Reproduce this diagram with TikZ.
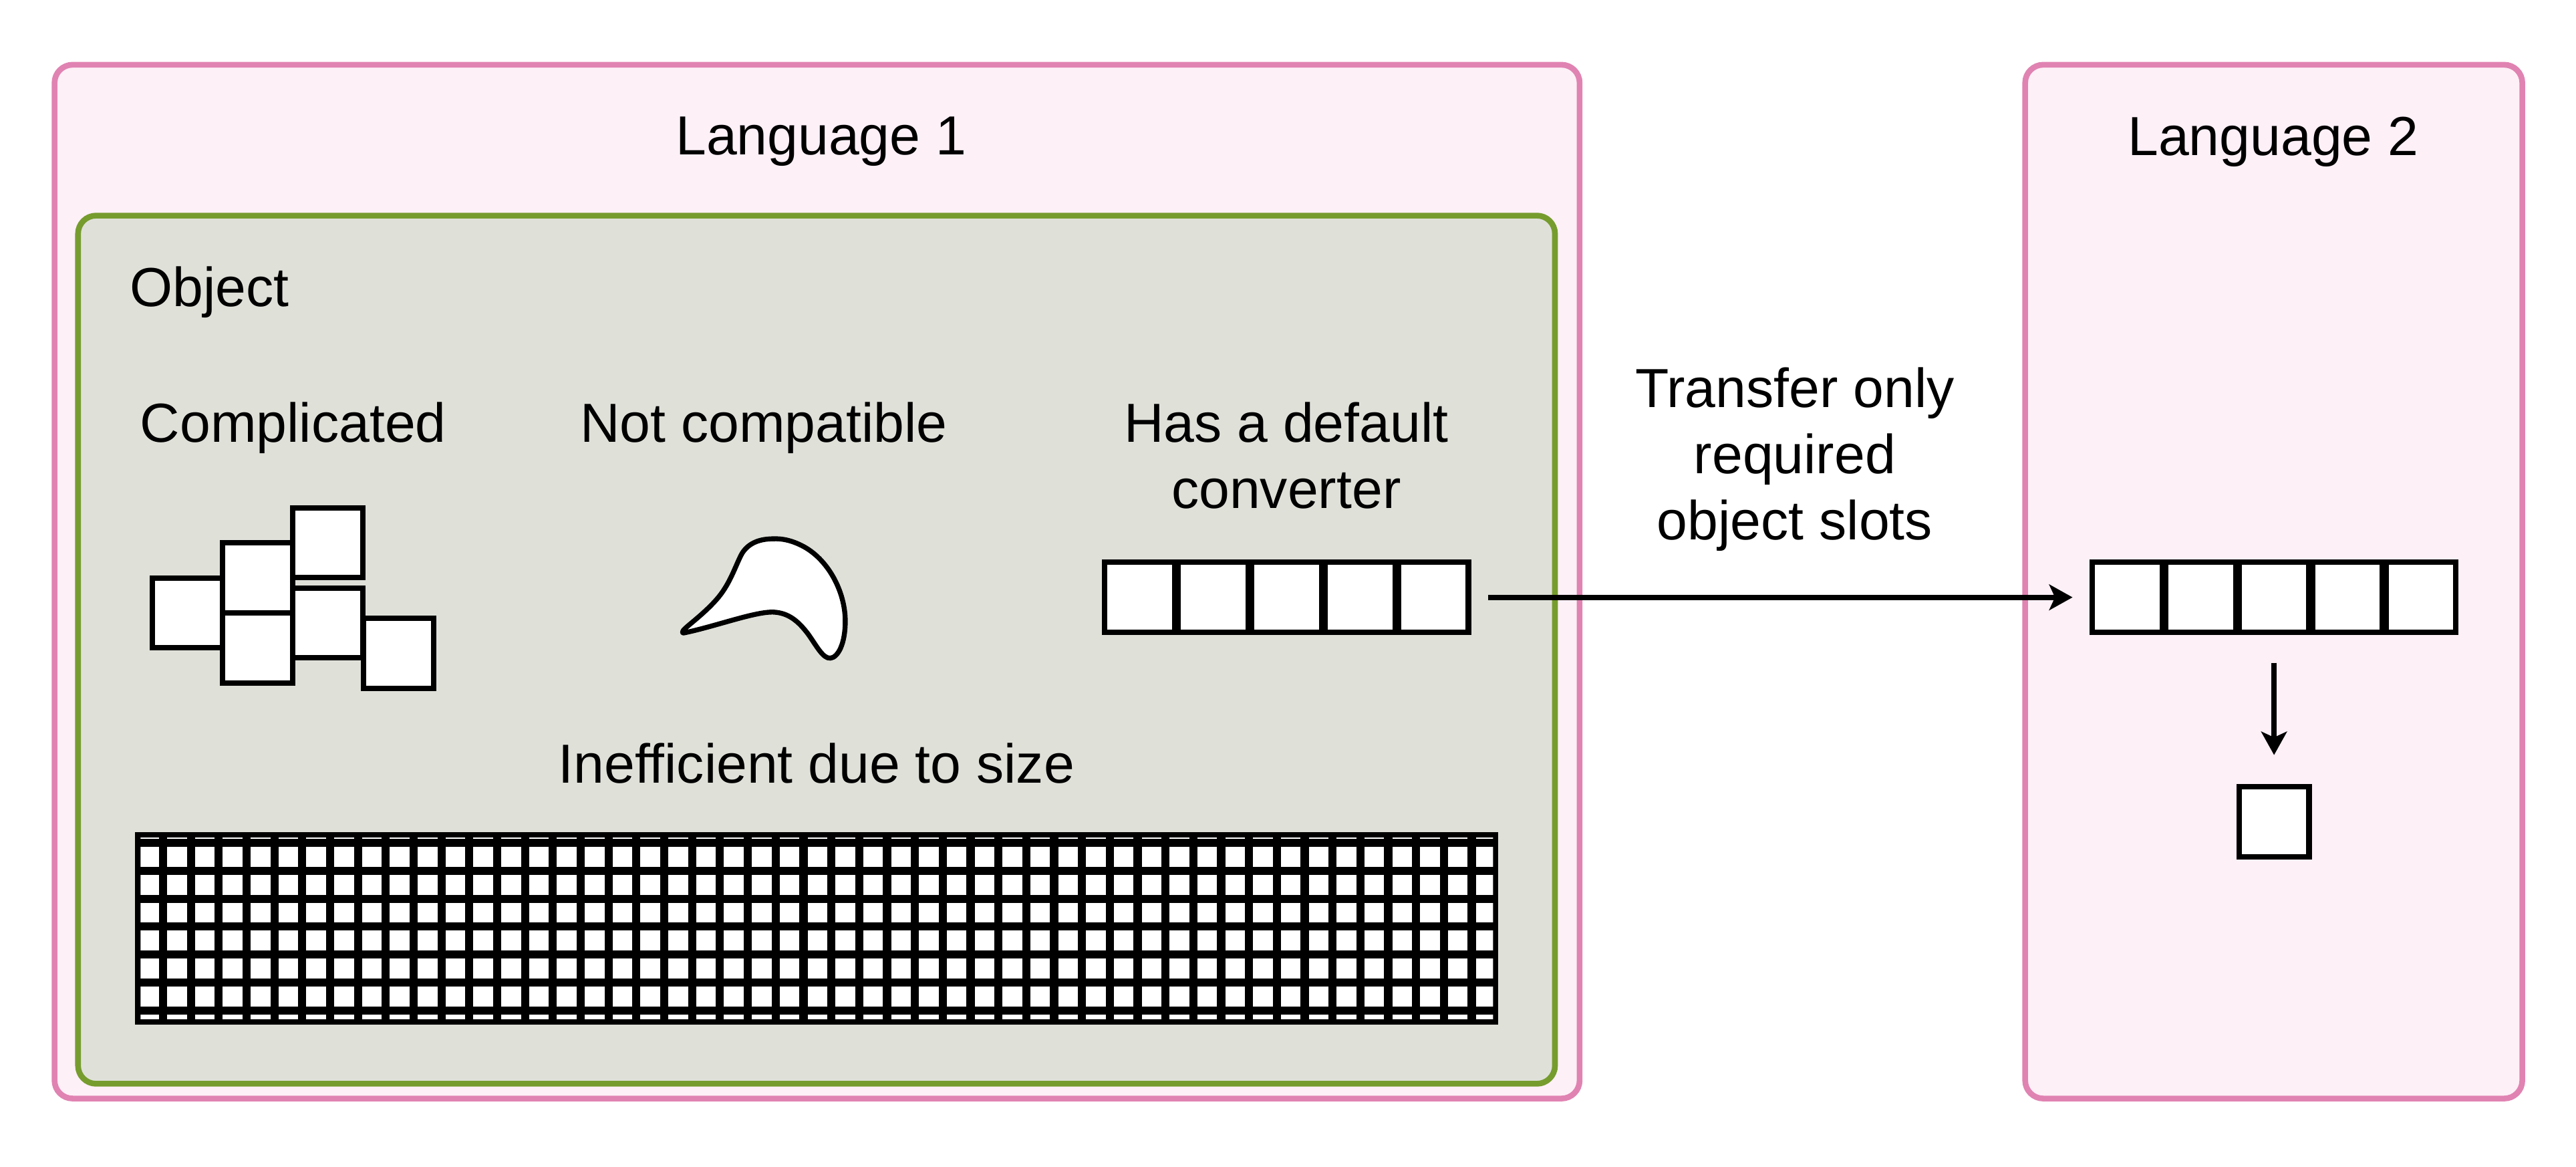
\documentclass[tikz,border=0pt]{standalone}
\usepackage{fontspec}
\setmainfont{Liberation Sans}
\usetikzlibrary{arrows.meta}
\definecolor{pinkfill}{RGB}{253,240,247}
\definecolor{pinkline}{RGB}{224,131,178}
\definecolor{greenfill}{RGB}{223,225,217}
\definecolor{greenline}{RGB}{118,156,46}
\begin{document}
\begin{tikzpicture}[x=1pt,y=-1pt,
  lang/.style={draw=pinkline, fill=pinkfill, line width=3.5pt, rounded corners=11pt, inner sep=0pt},
  objbox/.style={draw=greenline, fill=greenfill, line width=3.5pt, rounded corners=11pt, inner sep=0pt},
  lbl/.style={font=\fontsize{33.5}{40.3}\selectfont, inner sep=0pt, outer sep=0pt},
  cell/.style={draw=black, fill=white, line width=3.3pt, minimum width=42.6pt, minimum height=42.6pt, inner sep=0pt},
  conn/.style={line width=3.3pt, -{Stealth[length=14.2pt,width=15.6pt,inset=3.5pt]}},
  blob/.style={draw=black, fill=white, line width=3pt, line join=round}
]
\useasboundingbox (0,0) rectangle (1568,709.8);
\fill[white] (0,0) rectangle (1568,709.8);

% containers
\node[lang, minimum width=928.3pt, minimum height=629.1pt] (L1) at (497.35,353.95) {};
\node[lang, minimum width=302.6pt, minimum height=629.1pt] (L2) at (1384,353.95) {};
\node[objbox, minimum width=899pt, minimum height=528.3pt] (obj) at (497,395.35) {};

% titles
\node[lbl, anchor=base] (t1) at (499.8,94.2) {Language 1};
\node[lbl, anchor=base] (t2) at (1383.7,94.6) {Language 2};
\node[lbl, anchor=base west] (tobj) at (79.1,186.4) {Object};
\node[lbl, anchor=base] (tc) at (178.5,268.9) {Complicated};
\node[lbl, anchor=base] (tn) at (464.8,268.9) {Not compatible};
\node[lbl, anchor=north, align=center] (th) at (782.9,240.7) {\strut Has a default\\converter};
\node[lbl, anchor=base] (ti) at (497,476.6) {Inefficient due to size};
\node[lbl, anchor=north, align=center] (tt) at (1092.5,219.7) {\strut Transfer only\\required\\object slots};

% complicated cluster
\node[cell] (cA) at (114.0,373.0) {};
\node[cell] (cB) at (156.8,351.6) {};
\node[cell] (cC) at (156.8,394.4) {};
\node[cell] (cD) at (199.5,330.3) {};
\node[cell] (cE) at (199.5,379.1) {};
\node[cell] (cF) at (242.6,397.6) {};

% not compatible blob
\draw[blob] (417,385)
  .. controls (436,381) and (460,372) .. (471,372.5)
  .. controls (480,373) and (486,378) .. (492,386)
  .. controls (497,393) and (501,401) .. (505.5,400.5)
  .. controls (510,400) and (514.5,392) .. (514.5,378)
  .. controls (514.5,360) and (504,340) .. (488,332)
  .. controls (480,328) and (474,327.5) .. (468,328)
  .. controls (460,328.5) and (454,332) .. (451,338)
  .. controls (447,346) and (444,356) .. (436,365)
  .. controls (428,374) and (418,381) .. (416,383.5)
  .. controls (415,385) and (415.5,385.5) .. (417,385) -- cycle;

% default converter row
\foreach \k in {1,...,5}{
  \node[cell] (a\k) at ({693.7+(\k-1)*44.7},363.5) {};
  \node[cell] (b\k) at ({1294.8+(\k-1)*44.7},363.5) {};
}

% single slot
\node[cell] (s) at (1384.2,500.2) {};

% big grid
\fill[black] (82.3,506.4) rectangle (912.1,623.4);
\begin{scope}
  \clip (85.6,509.7) rectangle (908.8,620.1);
  \foreach \i in {0,...,7}{
    \foreach \j in {0,...,48}{
      \fill[white] ({84.75+\j*16.95},{498.3+\i*17.02}) rectangle ++(12,12.1);
    }
  }
\end{scope}

% connectors
\draw[conn, shorten <=10.3pt, shorten >=10.3pt] (a5.east) -- (b1.west);
\draw[conn, shorten <=16.9pt, shorten >=17.8pt] (b3.south) -- (s.north);
\end{tikzpicture}
\end{document}
